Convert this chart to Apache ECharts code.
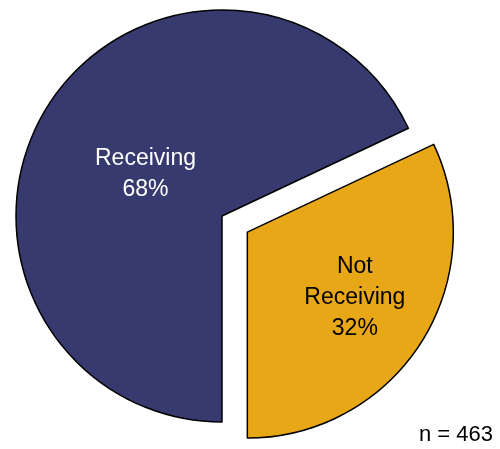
<!DOCTYPE html>
<html>
<head>
<meta charset="utf-8">
<script src="https://cdn.jsdelivr.net/npm/echarts@6/dist/echarts.min.js"></script>
<style>
  html, body { margin: 0; padding: 0; background: #fff; }
  #main { width: 500px; height: 449px; }
</style>
</head>
<body>
<div id="main"></div>
<script>
// slice data
const names = ['Receiving', 'Not Receiving'];
const values = [68, 32];
const labels = ['Receiving\n68%', 'Not\nReceiving\n32%'];
const colors = ['#363A6E', '#E8A717'];
const textColors = ['#ffffff', '#000000'];
const sampleSize = 'n = 463';

// label nudges (label is not exactly at half radius in the original)
const labelShift = [[13, 15], [18, 9]];

const chart = echarts.init(document.getElementById('main'), null, { renderer: 'canvas' });

const option = {
    animation: false,
    backgroundColor: '#ffffff',
    graphic: [{
        type: 'text',
        right: 7,
        bottom: 3,
        style: {
            text: sampleSize,
            font: '22px "Liberation Sans", Arial, sans-serif',
            fill: '#000'
        }
    }],
    series: [{
        type: 'pie',
        center: [222, 216],
        radius: [0, 206],
        startAngle: 270,
        clockwise: true,
        selectedMode: 'single',
        selectedOffset: 30,
        emphasis: { disabled: true },
        label: {
            position: 'inside',
            fontFamily: '"Liberation Sans", Arial, sans-serif',
            fontSize: 23,
            lineHeight: 31,
            align: 'center'
        },
        labelLine: { show: false },
        labelLayout: function (params) {
            return { dx: labelShift[params.dataIndex][0], dy: labelShift[params.dataIndex][1] };
        },
        itemStyle: {
            borderColor: '#000',
            borderWidth: 1.5
        },
        data: names.map((n, i) => ({
            name: n,
            value: values[i],
            selected: i === 1,
            itemStyle: { color: colors[i] },
            label: { formatter: labels[i], color: textColors[i] }
        }))
    }]
};

chart.setOption(option);
</script>
</body>
</html>
